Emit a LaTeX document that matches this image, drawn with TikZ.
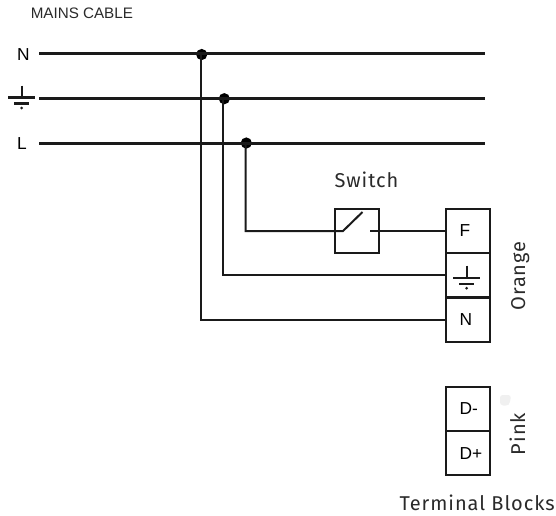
\documentclass[tikz,border=0pt]{standalone}
\usepackage{fontspec}
\setmainfont{Liberation Sans}
\newfontfamily\plex[LetterSpace=4.7]{Fira Sans}
\definecolor{ink}{HTML}{1A1A1A}
\definecolor{txt}{HTML}{2A2A2A}
\tikzset{
  x=0.75pt,y=-0.75pt,
  bus/.style={draw=ink,line width=2pt},
  wire/.style={draw=ink,line width=1.5pt},
  dotjoin/.style={circle,fill=black,inner sep=0pt,minimum size=8.4pt},
  blockbox/.style={draw=ink,line width=1.5pt,minimum width=33.2pt,minimum height=33.2pt,inner xsep=10.5pt,inner ysep=0pt,text width=12.2pt,align=left,font=\fontsize{13}{15}\selectfont,text=black},
  busname/.style={inner sep=0pt,font=\fontsize{13}{15}\selectfont,text=black},
  plexlabel/.style={inner sep=0pt,text=txt,anchor=base,font=\plex\fontsize{15}{17}\selectfont},
  groundmark/.pic={
    \draw[ink,line width=1.5pt] (0,-12) -- (0,0);
    \draw[ink,line width=1.6pt] (-13.5,0) -- (13.5,0);
    \draw[ink,line width=1.6pt] (-7.5,6) -- (7.5,6);
    \fill[ink] (0,10.5) circle (1.5);
  }
}
\begin{document}
\begin{tikzpicture}
\useasboundingbox (0,0) rectangle (556,515);
% bus labels and free ends
\node[inner sep=0pt,anchor=base west,text=txt,font=\fontsize{11.4}{13}\selectfont] (mains) at (30.5,18.3) {MAINS CABLE};
\node[busname] (nlabel) at (23.5,55) {N};
\node[busname] (llabel) at (22,144) {L};
\pic at (21.7,97.5) {groundmark};
\coordinate (ns) at (39,53.5); \coordinate (ne) at (485,53.5);
\coordinate (es) at (39,98.7); \coordinate (ee) at (485,98.7);
\coordinate (ls) at (39,143.7); \coordinate (le) at (485,143.7);
% terminals
\node[blockbox] (tf) at (467.7,231) {F};
\node[blockbox] (te) at (467.7,275.3) {};
\node[blockbox] (tn) at (467.7,319.7) {N};
\node[blockbox] (dm) at (467.7,409) {\mbox{D-}};
\node[blockbox] (dp) at (467.7,453.3) {\mbox{D+}};
\pic at (466.7,277.7) {groundmark};
% switch
\node[draw=ink,line width=1.5pt,minimum width=33.2pt,minimum height=33.2pt,inner sep=0pt] (sw) at (356.7,231) {};
\coordinate (swa) at (343,231);
\coordinate (swb) at (362.5,212);
\coordinate (swc) at (370,231);
% junctions
\node[dotjoin] (jn) at (201.7,54.5) {};
\node[dotjoin] (je) at (224.3,98.7) {};
\node[dotjoin] (jl) at (246.3,143) {};
% wires
\draw[wire] ([xshift=-.5pt]jn.center) |- (tn.west);
\draw[wire] ([xshift=-.7pt]je.center) |- (te.west);
\draw[wire] ([xshift=-.5pt]jl.center) |- (swa) -- (swb);
\draw[wire] (swc) -- (tf.west);
\draw[bus] (ns) -- (ne);
\draw[bus] (es) -- (ee);
\draw[bus] (ls) -- (le);
% labels
\node[plexlabel] (swl) at (366.5,187.3) {Switch};
\node[plexlabel,rotate=90] (orl) at (525,276) {Orange};
\node[plexlabel,rotate=90] (pkl) at (525,434) {Pink};
\node[plexlabel,anchor=base east] (tbl) at (555,510) {Terminal Blocks};
% faint mark
\fill[gray!12,rounded corners=2pt] (500,395) -- (511,395) -- (510,403) -- (507,406) -- (500,405) -- cycle;
\end{tikzpicture}
\end{document}
